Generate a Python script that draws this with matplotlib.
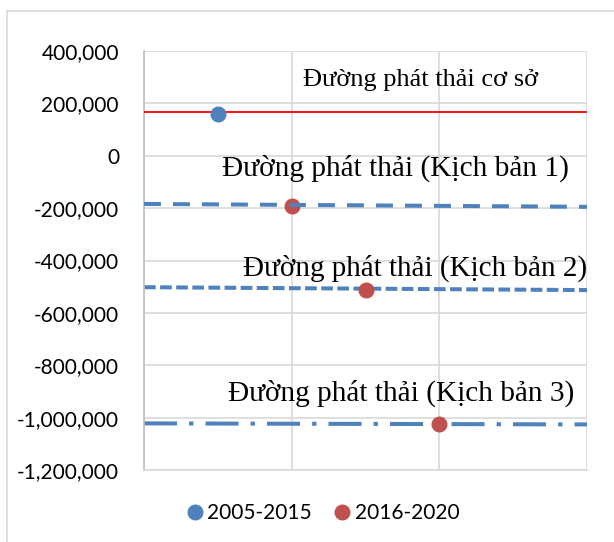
import matplotlib
matplotlib.use("Agg")
import matplotlib.pyplot as plt
from matplotlib.lines import Line2D
from matplotlib.patches import Rectangle
from matplotlib.ticker import FuncFormatter

# Data
line_x = [0, 6]
baseline = [166000, 166000]
scenario1 = [-184000, -195000]
scenario2 = [-502000, -513000]
scenario3 = [-1022000, -1026000]

pts_2005_x = [1]
pts_2005_y = [159000]
pts_2016_x = [2, 3, 4]
pts_2016_y = [-192000, -514000, -1024000]

labels = ["Đường phát thải cơ sở",
          "Đường phát thải (Kịch bản 1)",
          "Đường phát thải (Kịch bản 2)",
          "Đường phát thải (Kịch bản 3)"]
label_x = [2.15, 1.06, 1.34, 1.14]
label_y = [289000, -47000, -429000, -906000]
label_size = [19, 21.2, 21, 21.1]

legend_labels = ["2005-2015", "2016-2020"]
yticks = list(range(-1200000, 400001, 200000))

BLUE = "#4F81BD"
RED = "#C0504D"

fig = plt.figure(figsize=(6.14, 5.42), dpi=100)
fig.patches.append(Rectangle((7/614, -0.05), 1.1, 1.05 - 11/542,
                             transform=fig.transFigure, fill=False,
                             edgecolor="#D9D9D9", linewidth=1.2))
ax = fig.add_axes([144/614, 1-470/542, (587-144)/614, (470-51)/542])

ax.set_xlim(0, 6)
ax.set_ylim(-1200000, 400000)
ax.set_xticks([0, 2, 4, 6])
ax.set_xticklabels([])
ax.set_yticks(yticks)
ax.yaxis.set_major_formatter(FuncFormatter(lambda v, p: f"{int(v):,}"))
ax.tick_params(axis="both", length=0)
ax.tick_params(axis="y", pad=18, labelsize=15)
for lab in ax.get_yticklabels():
    lab.set_family("Lato")
ax.grid(True, color="#D9D9D9", linewidth=1.2)
ax.set_axisbelow(True)
for s in ["top", "right"]:
    ax.spines[s].set_visible(False)
ax.spines["left"].set_color("#BFBFBF")
ax.spines["bottom"].set_color("#D9D9D9")
ax.spines["left"].set_linewidth(1.2)
ax.spines["bottom"].set_linewidth(1.2)

ax.plot(line_x, baseline, color="#FF0000", linewidth=1.3, zorder=3)
ax.plot(line_x, scenario1, color=BLUE, linewidth=2.9, dashes=(4.2, 3.0), zorder=4)
ax.plot(line_x, scenario2, color=BLUE, linewidth=2.9, dashes=(2.9, 1.1), zorder=2)
ax.plot(line_x, scenario3, color=BLUE, linewidth=2.9, dashes=(8.2, 3.0, 1.07, 3.0), zorder=2)

ax.plot(pts_2005_x, pts_2005_y, "o", color=BLUE, markersize=10.5, zorder=3, linestyle="none")
ax.plot(pts_2016_x, pts_2016_y, "o", color=RED, markersize=10.5, zorder=3, linestyle="none")

for t, x, y, s in zip(labels, label_x, label_y, label_size):
    ax.text(x, y, t, family="Liberation Serif", fontsize=s, ha="left", va="center", zorder=5)

handles = [Line2D([], [], marker="o", color=BLUE, linestyle="none", markersize=10.5),
           Line2D([], [], marker="o", color=RED, linestyle="none", markersize=10.5)]
fig.legend(handles, legend_labels, loc="center", bbox_to_anchor=(322/614, 1-513/542),
           ncol=2, frameon=False, prop={"family": "Lato", "size": 15},
           handletextpad=0.1, columnspacing=0.95, handlelength=1.0)

fig.savefig("out.png", dpi=100)
